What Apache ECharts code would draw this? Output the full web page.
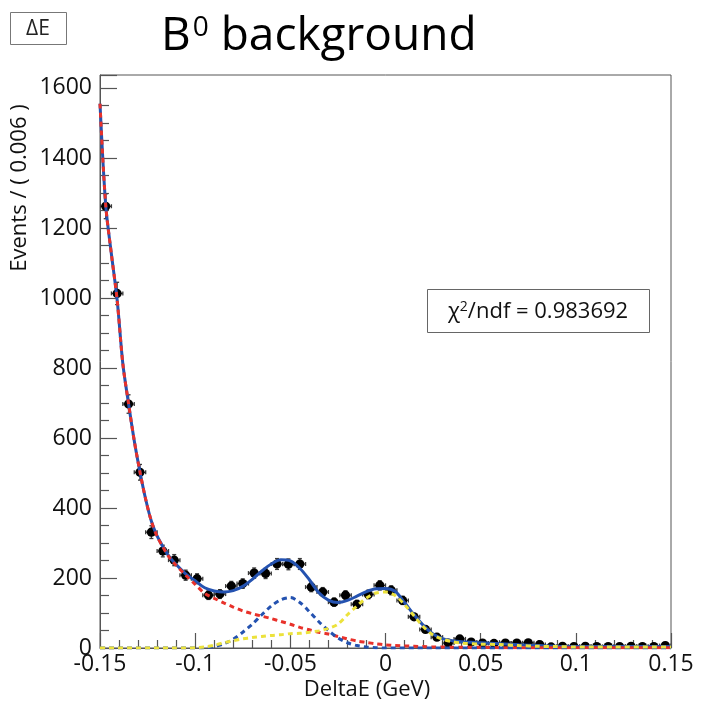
<!DOCTYPE html>
<html>
<head>
<meta charset="utf-8">
<script src="https://cdn.jsdelivr.net/npm/echarts@6/dist/echarts.min.js"></script>
<style>
  html, body { margin: 0; padding: 0; background: #ffffff; }
  #chart { width: 702px; height: 707px; }
</style>
</head>
<body>
<div id="chart"></div>
<script>
// DeltaE histogram: bin centres (GeV) and event counts per 0.006 GeV bin
const binCenters = [
  -0.147, -0.141, -0.135, -0.129, -0.123, -0.117, -0.111, -0.105, -0.099, -0.093,
  -0.087, -0.081, -0.075, -0.069, -0.063, -0.057, -0.051, -0.045, -0.039, -0.033,
  -0.027, -0.021, -0.015, -0.009, -0.003, 0.003, 0.009, 0.015, 0.021, 0.027,
  0.033, 0.039, 0.045, 0.051, 0.057, 0.063, 0.069, 0.075, 0.081, 0.087,
  0.093, 0.099, 0.105, 0.111, 0.117, 0.123, 0.129, 0.135, 0.141, 0.147
];
const eventCounts = [
  1262, 1013, 697, 502, 331, 277, 251, 208, 198, 151,
  154, 177, 184, 214, 213, 240, 239, 240, 174, 160,
  131, 151, 125, 153, 179, 165, 136, 89, 53, 31,
  14, 26, 17, 14, 13, 14, 14, 15, 10, 3,
  5, 4, 5, 4, 4, 4, 5, 4, 4, 7
];
const binWidth = 0.006;

// Fitted PDF curves sampled along DeltaE
const curveX = [
  -0.15, -0.147, -0.144, -0.141, -0.138, -0.135, -0.132, -0.129, -0.126, -0.123,
  -0.12, -0.117, -0.114, -0.111, -0.105, -0.1, -0.095, -0.09, -0.085, -0.08,
  -0.075, -0.07, -0.065, -0.06, -0.055, -0.05, -0.045, -0.04, -0.035, -0.03,
  -0.025, -0.02, -0.015, -0.01, -0.005, 0, 0.005, 0.01, 0.015, 0.02,
  0.025, 0.03, 0.035, 0.04, 0.05, 0.06, 0.07, 0.08, 0.09, 0.1,
  0.12, 0.15
];
const fitTotal = [
  1555, 1265, 1125, 995, 812, 698, 592, 503, 425, 362,
  320, 290, 264, 244, 212, 192, 172, 163, 160, 164,
  176, 196, 220, 240, 252, 249, 228, 195, 158, 137,
  130, 136, 148, 161, 169, 170, 162, 130, 95, 64,
  40, 27, 21, 18, 15, 12, 9, 7, 5, 4,
  4, 4
];
const fitBackground = [
  1555, 1265, 1125, 995, 812, 698, 592, 503, 425, 362,
  319, 289, 262, 242, 208, 182, 156, 142, 129, 117,
  106, 98, 91, 84, 76, 68, 59, 52, 45, 40,
  33, 26, 20, 16, 12, 9, 7, 6, 5, 4,
  3, 3, 2, 2, 2, 1, 1, 1, 1, 1,
  1, 1
];
const fitPeak = [
  0, 0, 0, 0, 0, 0, 0, 0, 0, 0,
  0, 0, 0, 0, 0, 0, 1, 4, 12, 25,
  45, 68, 95, 120, 138, 144, 130, 104, 75, 50,
  29, 15, 7, 3, 1, 0, 0, 0, 0, 0,
  0, 0, 0, 0, 0, 0, 0, 0, 0, 0,
  0, 0
];
const fitCrossFeed = [
  0, 0, 0, 0, 0, 0, 0, 0, 0, 0,
  0, 0, 0, 0, 0, 1, 3, 8, 15, 21,
  26, 30, 33, 36, 38, 41, 42, 45, 49, 56,
  68, 95, 120, 143, 157, 160, 150, 124, 92, 60,
  37, 25, 18, 14, 11, 10, 7, 5, 4, 3,
  3, 3
];

const xRange = [-0.15, 0.15];
const xStep = 0.05;
const yRange = [0, 1637];
const yStep = 200;

const chiSquareText = '0.983692';

const FONT = '"Open Sans", "Noto Sans", sans-serif';
const BLUE = '#2452b0';
const RED = '#e8312a';
const YELLOW = '#ece23c';

const chart = echarts.init(document.getElementById('chart'), null, { renderer: 'canvas' });

const pointData = binCenters.map((x, i) => [x, eventCounts[i], binWidth / 2, Math.sqrt(eventCounts[i])]);

function curve(values) {
  return curveX.map((x, i) => [x, values[i]]);
}

function lineSeries(name, values, color, dashed, z) {
  return {
    name: name,
    type: 'line',
    data: curve(values),
    showSymbol: false,
    smooth: 0.3,
    clip: true,
    silent: true,
    z: z,
    lineStyle: {
      color: color,
      width: 3,
      type: dashed ? [5, 4] : 'solid'
    }
  };
}

const option = {
  backgroundColor: '#ffffff',
  animation: false,
  grid: {
    left: 100, top: 75, right: 31, bottom: 59,
    show: true, borderColor: '#555', borderWidth: 1, backgroundColor: 'transparent'
  },
  xAxis: {
    type: 'value',
    min: xRange[0], max: xRange[1], interval: xStep,
    axisLine: { show: true, onZero: false, lineStyle: { color: '#555', width: 1 } },
    axisTick: { show: true, inside: true, length: 15, lineStyle: { color: '#555', width: 1.2 } },
    minorTick: { show: true, splitNumber: 5, length: 8, lineStyle: { color: '#555', width: 1.2 } },
    splitLine: { show: false },
    axisLabel: {
      margin: 5, color: '#111', fontFamily: FONT, fontSize: 23,
      formatter: v => String(+v.toFixed(2))
    }
  },
  yAxis: {
    type: 'value',
    min: yRange[0], max: yRange[1], interval: yStep,
    axisLine: { show: true, onZero: false, lineStyle: { color: '#555', width: 1 } },
    axisTick: { show: true, inside: true, length: 17, lineStyle: { color: '#555', width: 1.2 } },
    minorTick: { show: true, splitNumber: 4, length: 9, lineStyle: { color: '#555', width: 1.2 } },
    splitLine: { show: false },
    axisLabel: {
      margin: 8, color: '#111', fontFamily: FONT, fontSize: 23,
      showMaxLabel: false,
      formatter: v => String(v)
    }
  },
  series: [
    {
      name: 'data',
      type: 'custom',
      clip: true,
      z: 1,
      renderItem: function (params, api) {
        const x = api.value(0), y = api.value(1), ex = api.value(2), ey = api.value(3);
        const c = api.coord([x, y]);
        const l = api.coord([x - ex, y])[0];
        const r = api.coord([x + ex, y])[0];
        const t = api.coord([x, y + ey])[1];
        const b = api.coord([x, y - ey])[1];
        const st = { stroke: '#3a3a3a', lineWidth: 1.3 };
        const cap = 2;
        return {
          type: 'group',
          children: [
            { type: 'line', shape: { x1: l, y1: c[1], x2: r, y2: c[1] }, style: st },
            { type: 'line', shape: { x1: c[0], y1: t, x2: c[0], y2: b }, style: st },
            { type: 'line', shape: { x1: l, y1: c[1] - cap, x2: l, y2: c[1] + cap }, style: st },
            { type: 'line', shape: { x1: r, y1: c[1] - cap, x2: r, y2: c[1] + cap }, style: st },
            { type: 'line', shape: { x1: c[0] - cap, y1: t, x2: c[0] + cap, y2: t }, style: st },
            { type: 'line', shape: { x1: c[0] - cap, y1: b, x2: c[0] + cap, y2: b }, style: st },
            { type: 'circle', shape: { cx: c[0], cy: c[1], r: 4.6 }, style: { fill: '#000' } }
          ]
        };
      },
      data: pointData
    },
    lineSeries('total', fitTotal, BLUE, false, 2),
    lineSeries('background', fitBackground, RED, true, 3),
    lineSeries('peak', fitPeak, BLUE, true, 3),
    lineSeries('crossfeed', fitCrossFeed, YELLOW, true, 4)
  ],
  graphic: [
    {
      type: 'rect', shape: { x: 10.5, y: 12.5, width: 56, height: 32 },
      style: { fill: '#fff', stroke: '#777', lineWidth: 1 }
    },
    {
      type: 'text', x: 38, y: 29,
      style: { text: 'ΔE', font: '21px ' + FONT, fill: '#222', align: 'center', verticalAlign: 'middle' }
    },
    {
      type: 'text', x: 161, y: 37,
      style: {
        text: '{b|B}{s|0}{b| background}',
        verticalAlign: 'middle', align: 'left',
        rich: {
          b: { fontFamily: FONT, fontSize: 46, fill: '#000', verticalAlign: 'bottom' },
          s: { fontFamily: FONT, fontSize: 28, fill: '#000', verticalAlign: 'top', padding: [0, 0, 16, 2] }
        }
      }
    },
    {
      type: 'text', x: 20, y: 188, rotation: Math.PI / 2,
      style: { text: 'Events / ( 0.006 )', font: '22px ' + FONT, fill: '#111', align: 'center', verticalAlign: 'middle' }
    },
    {
      type: 'text', x: 367, y: 690,
      style: { text: 'DeltaE (GeV)', font: '22px ' + FONT, fill: '#111', align: 'center', verticalAlign: 'middle' }
    },
    {
      type: 'rect', shape: { x: 427.5, y: 289.5, width: 222, height: 43 },
      style: { fill: '#fff', stroke: '#666', lineWidth: 1 }
    },
    {
      type: 'text', x: 538, y: 312,
      style: {
        text: '{g|χ}{s|2}{g|/ndf = ' + chiSquareText + '}',
        align: 'center', verticalAlign: 'middle',
        rich: {
          g: { fontFamily: FONT, fontSize: 22, fill: '#111' },
          s: { fontFamily: FONT, fontSize: 14, fill: '#111', padding: [0, 0, 10, 0] }
        }
      }
    }
  ]
};

chart.setOption(option);
</script>
</body>
</html>
